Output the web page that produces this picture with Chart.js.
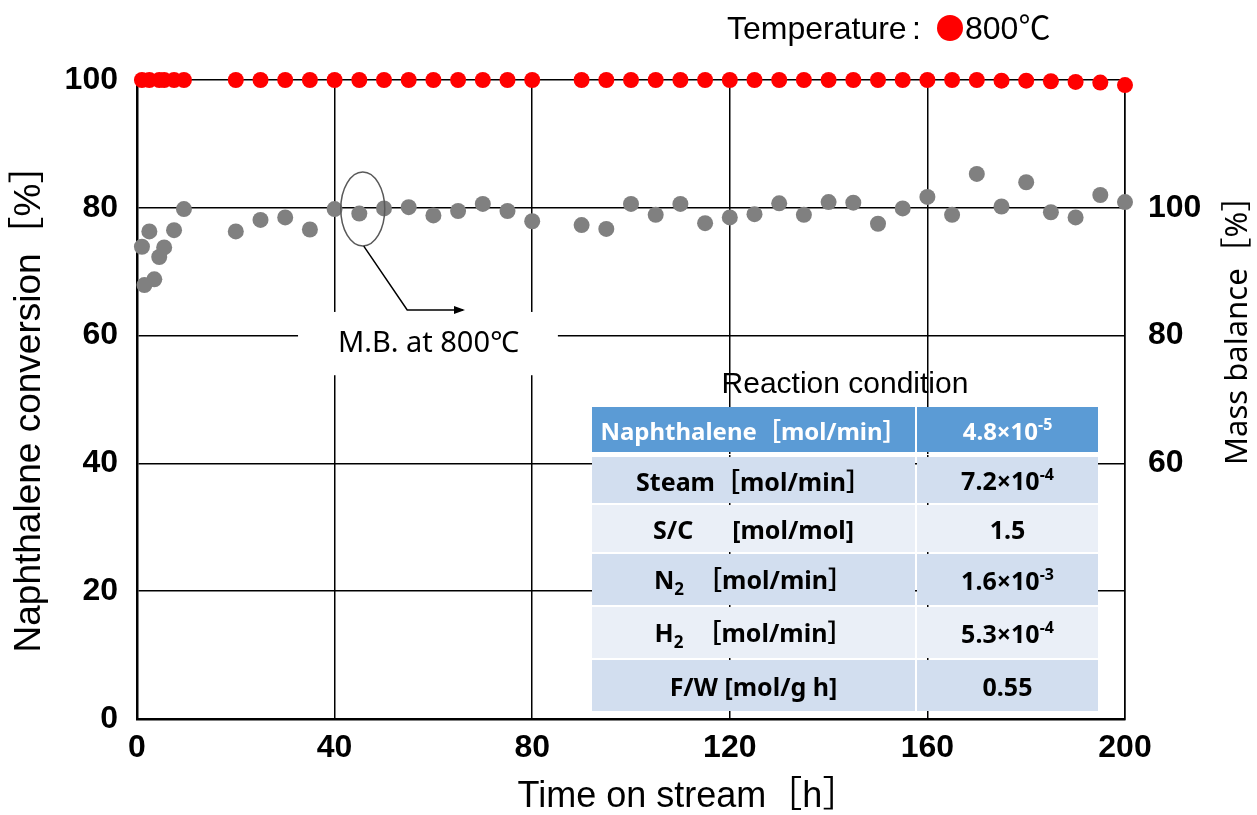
<!DOCTYPE html>
<html lang="en">
<head>
<meta charset="UTF-8">
<title>Naphthalene conversion and mass balance</title>
<script src="https://cdn.jsdelivr.net/npm/chart.js@4"></script>
<style>
  body { margin: 0; background: #fff; }
  #wrap { position: relative; width: 1257px; height: 815px; }
  #condTitle { position: absolute; left: 592px; width: 506px; top: 365px; text-align: center;
               font: 30px "Liberation Sans", Arial, sans-serif; color: #000; line-height: 36px; }
  #cond { position: absolute; left: 590px; top: 405px; border-collapse: separate; border-spacing: 2px;
          font: bold 25px "Noto Sans", "Noto Sans CJK JP", sans-serif; color: #000; }
  #cond td { text-align: center; padding: 0; white-space: nowrap; }
  #cond td.c1 { width: 323px; }
  #cond td.c2 { width: 181px; }
  #cond tr.head td { background: #5B9BD5; color: #fff; height: 45px; font-size: 24px; }
  #cond tr.gap td { height: 1px; background: #fff; }
  #cond tr.dark td { background: #D2DEEF; }
  #cond tr.light td { background: #EAEFF7; }
  #cond sup { font-size: 16px; vertical-align: 10px; }
  #cond sub { font-size: 17px; vertical-align: -6px; }
</style>
</head>
<body>
<div id="wrap">
  <canvas id="chart"></canvas>
  <div id="condTitle">Reaction condition</div>
  <table id="cond">
    <tr class="head"><td class="c1">Naphthalene［mol/min］</td><td class="c2">4.8×10<sup>-5</sup></td></tr>
    <tr class="gap"><td></td><td></td></tr>
    <tr class="dark" style="height:46px"><td class="c1">Steam［mol/min］</td><td class="c2">7.2×10<sup>-4</sup></td></tr>
    <tr class="light" style="height:47px"><td class="c1">S/C&nbsp;&nbsp;&nbsp;&nbsp;&nbsp;&nbsp;[mol/mol]</td><td class="c2">1.5</td></tr>
    <tr class="dark" style="height:51px"><td class="c1">N<sub>2</sub>&nbsp;&nbsp;［mol/min］</td><td class="c2">1.6×10<sup>-3</sup></td></tr>
    <tr class="light" style="height:51px"><td class="c1">H<sub>2</sub>&nbsp;&nbsp;［mol/min］</td><td class="c2">5.3×10<sup>-4</sup></td></tr>
    <tr class="dark" style="height:51px"><td class="c1">F/W [mol/g h]</td><td class="c2">0.55</td></tr>
  </table>
</div>
<script>
  // Naphthalene conversion (left axis, %)
  const convTime = [1, 2.5, 4.5, 5.5, 7.5, 9.5,
    20, 25, 30, 35, 40, 45, 50, 55, 60, 65, 70, 75, 80,
    90, 95, 100, 105, 110, 115, 120, 125, 130, 135, 140, 145, 150, 155, 160, 165, 170, 175, 180, 185, 190, 195, 200];
  const conversion = [100, 100, 100, 100, 100, 100,
    100, 100, 100, 100, 100, 100, 100, 100, 100, 100, 100, 100, 100,
    100, 100, 100, 100, 100, 100, 100, 100, 100, 100, 100, 100, 100, 100, 100, 100, 100, 99.9, 99.9, 99.8, 99.7, 99.6, 99.2];

  // Mass balance (right axis, %)
  const mbTime = [1, 1.5, 2.5, 3.5, 4.5, 5.5, 7.5, 9.5,
    20, 25, 30, 35, 40, 45, 50, 55, 60, 65, 70, 75, 80,
    90, 95, 100, 105, 110, 115, 120, 125, 130, 135, 140, 145, 150, 155, 160, 165, 170, 175, 180, 185, 190, 195, 200];
  const massBalance = [93.9, 87.9, 96.3, 88.8, 92.3, 93.8, 96.5, 99.8,
    96.3, 98.1, 98.5, 96.6, 99.8, 99.1, 99.9, 100.1, 98.8, 99.5, 100.6, 99.5, 97.9,
    97.3, 96.7, 100.6, 98.9, 100.6, 97.6, 98.5, 99.0, 100.7, 98.9, 100.9, 100.8, 97.5, 99.9, 101.7, 98.9, 105.3, 100.2, 104.0, 99.3, 98.5, 102.0, 100.9];

  const xTicks = [0, 40, 80, 120, 160, 200];
  const rightTicks = [60, 80, 100];

  // annotation anchors (data units)
  const mbMark = { x: 45.7, y: 99.8 };          // ellipse centre, right axis
  const arrowCorner = { x: 54.7, y: 64.0 };     // left axis
  const arrowEndX = 66.4;
  const mbLabel = { x0: 32.6, x1: 85.2, y0: 63.7, y1: 53.8, tx: 59.0, ty: 58.8 };

  const tickFont = { family: '"Liberation Sans", Arial, sans-serif', size: 32, weight: 'bold' };
  const titleFont = { family: '"Liberation Sans", Arial, "Noto Sans CJK JP", sans-serif', size: 37 };

  const overlay = {
    id: 'overlay',
    afterDraw(chart) {
      const { ctx, chartArea } = chart;
      const { x, y, y2 } = chart.scales;
      ctx.save();

      // white label box with text
      const bx0 = x.getPixelForValue(mbLabel.x0), bx1 = x.getPixelForValue(mbLabel.x1);
      const by0 = y.getPixelForValue(mbLabel.y0), by1 = y.getPixelForValue(mbLabel.y1);
      ctx.fillStyle = '#fff';
      ctx.fillRect(bx0, by0, bx1 - bx0, by1 - by0);
      ctx.fillStyle = '#000';
      ctx.font = '29px "Noto Sans", "Noto Sans CJK JP", sans-serif';
      ctx.textAlign = 'center';
      ctx.textBaseline = 'middle';
      ctx.fillText('M.B. at 800℃', x.getPixelForValue(mbLabel.tx), y.getPixelForValue(mbLabel.ty));

      // ellipse around the mass balance point
      const ex = x.getPixelForValue(mbMark.x), ey = y2.getPixelForValue(mbMark.y);
      ctx.strokeStyle = '#595959';
      ctx.lineWidth = 1.5;
      ctx.beginPath();
      ctx.ellipse(ex, ey, 22, 37, 0, 0, Math.PI * 2);
      ctx.stroke();

      // leader line + arrow
      const cx = x.getPixelForValue(arrowCorner.x), cy = y.getPixelForValue(arrowCorner.y);
      const axEnd = x.getPixelForValue(arrowEndX);
      ctx.strokeStyle = '#000';
      ctx.lineWidth = 1.5;
      ctx.beginPath();
      ctx.moveTo(ex + 1, ey + 37);
      ctx.lineTo(cx, cy);
      ctx.lineTo(axEnd - 2, cy);
      ctx.stroke();
      ctx.fillStyle = '#000';
      ctx.beginPath();
      ctx.moveTo(axEnd, cy);
      ctx.lineTo(axEnd - 11, cy - 4);
      ctx.lineTo(axEnd - 11, cy + 4);
      ctx.closePath();
      ctx.fill();

      // temperature legend
      ctx.textAlign = 'left';
      ctx.textBaseline = 'alphabetic';
      ctx.font = '32px "Liberation Sans", Arial, sans-serif';
      ctx.fillText('Temperature', 727, 39);
      ctx.fillText(':', 912, 39);
      ctx.fillStyle = '#ff0000';
      ctx.beginPath();
      ctx.arc(950, 28, 13, 0, Math.PI * 2);
      ctx.fill();
      ctx.fillStyle = '#000';
      ctx.font = '32px "Liberation Sans", Arial, "Noto Sans CJK JP", sans-serif';
      ctx.fillText('800℃', 965, 39);

      // x axis title
      ctx.font = '36px "Liberation Sans", Arial, "Noto Sans CJK JP", sans-serif';
      ctx.textAlign = 'center';
      ctx.textBaseline = 'middle';
      ctx.fillText('Time on stream［h］', 688, 797);

      // right axis title
      ctx.save();
      ctx.translate(chartArea.right + 113, y2.getPixelForValue(82));
      ctx.rotate(-Math.PI / 2);
      ctx.font = '31px "Noto Sans", "Noto Sans CJK JP", sans-serif';
      ctx.textAlign = 'center';
      ctx.textBaseline = 'middle';
      ctx.fillText('Mass balance［%］', 0, 0);
      ctx.restore();

      ctx.restore();
    }
  };

  new Chart(document.getElementById('chart'), {
    type: 'scatter',
    data: {
      datasets: [
        {
          label: 'Naphthalene conversion',
          data: convTime.map((t, i) => ({ x: t, y: conversion[i] })),
          yAxisID: 'y',
          backgroundColor: '#ff0000',
          borderWidth: 0,
          pointRadius: 8,
          pointHoverRadius: 8,
          clip: false
        },
        {
          label: 'Mass balance',
          data: mbTime.map((t, i) => ({ x: t, y: massBalance[i] })),
          yAxisID: 'y2',
          backgroundColor: '#808080',
          borderWidth: 0,
          pointRadius: 8,
          pointHoverRadius: 8,
          clip: false
        }
      ]
    },
    options: {
      responsive: true,
      maintainAspectRatio: false,
      animation: false,
      layout: { padding: { top: 80, left: 0, right: 0, bottom: 0 } },
      plugins: { legend: { display: false }, tooltip: { enabled: false } },
      scales: {
        x: {
          type: 'linear', min: 0, max: 200,
          afterBuildTicks: s => { s.ticks = xTicks.map(v => ({ value: v })); },
          ticks: { padding: 10, color: '#000', font: tickFont },
          grid: { color: '#000', lineWidth: 1.5, drawTicks: false },
          border: { color: '#000', width: 2.5 },
          title: { display: false },
          afterFit: s => { s.height = 96; }
        },
        y: {
          position: 'left', min: 0, max: 100,
          ticks: { stepSize: 20, padding: 19, color: '#000', font: tickFont },
          grid: { color: '#000', lineWidth: 1.5, drawTicks: false },
          border: { color: '#000', width: 2.5 },
          title: { display: true, text: 'Naphthalene conversion［%］', color: '#000', font: titleFont, padding: { top: 8, bottom: 0 } },
          afterFit: s => { s.width = 137; }
        },
        y2: {
          position: 'right', min: 20, max: 120,
          afterBuildTicks: s => { s.ticks = rightTicks.map(v => ({ value: v })); },
          ticks: { padding: 23, color: '#000', font: tickFont },
          grid: { display: false, drawTicks: false },
          border: { color: '#000', width: 1.5 },
          afterFit: s => { s.width = 132; }
        }
      }
    },
    plugins: [overlay]
  });
</script>
</body>
</html>
